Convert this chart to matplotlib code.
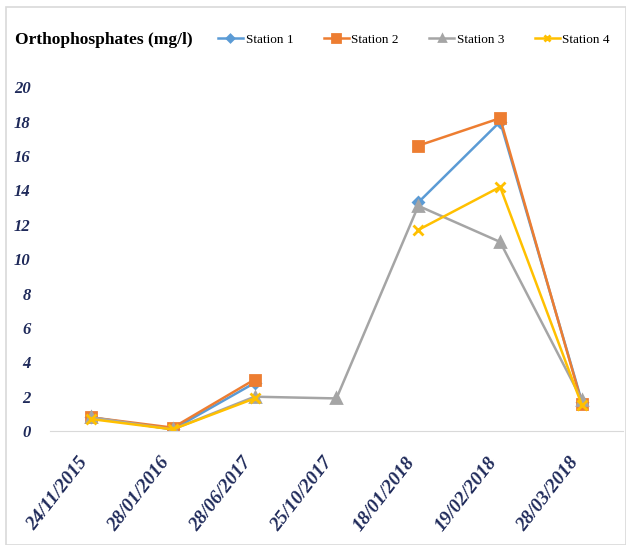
import matplotlib.pyplot as plt
import numpy as np
from matplotlib.patches import Rectangle

dates = ["24/11/2015", "28/01/2016", "28/06/2017", "25/10/2017",
         "18/01/2018", "19/02/2018", "28/03/2018"]
station1 = [0.8, 0.1, 2.8, np.nan, 13.3, 18.0, 1.7]
station2 = [0.8, 0.2, 3.0, np.nan, 16.6, 18.2, 1.6]
station3 = [0.8, 0.1, 2.0, 1.9, 13.1, 11.0, 1.8]
station4 = [0.7, 0.1, 1.9, np.nan, 11.7, 14.2, 1.5]

names = ["Station 1", "Station 2", "Station 3", "Station 4"]
colors = ["#5B9BD5", "#ED7D31", "#A5A5A5", "#FFC000"]
markers = ["D", "s", "^", "x"]
msizes = [5, 7.5, 6.5, 6.5]

plt.rcParams['font.family'] = ['Liberation Serif', 'DejaVu Serif']
navy = "#1F2A5A"

fig = plt.figure(figsize=(6.26, 5.45), dpi=100)
fig.patches.append(Rectangle((0.010, 0.0), 0.99, 0.987, transform=fig.transFigure,
                             fill=False, edgecolor="#D9D9D9", lw=1.2))
ax = fig.add_axes([0.08, 0.209, 0.915, 0.631])

x = np.arange(len(dates))
for vals, name, c, m, ms in zip([station1, station2, station3, station4],
                                names, colors, markers, msizes):
    ax.plot(x, vals, color=c, marker=m, ms=ms, lw=1.8, mew=2, label=name)

ax.set_xlim(-0.5, len(dates) - 0.5)
ax.set_ylim(0, 20)
ax.set_yticks(range(0, 21, 2))
ax.set_xticks(x)
ax.set_xticklabels(dates, rotation=52, ha='right', va='bottom',
                   rotation_mode='anchor')
for lab in ax.get_xticklabels() + ax.get_yticklabels():
    lab.set_fontweight('bold')
    lab.set_fontstyle('italic')
    lab.set_color(navy)
for lab in ax.get_xticklabels():
    lab.set_fontsize(14)
for lab in ax.get_yticklabels():
    lab.set_fontsize(12)
ax.tick_params(axis='both', length=0)
ax.tick_params(axis='y', pad=14)
ax.tick_params(axis='x', pad=24)
for s in ["top", "right", "left"]:
    ax.spines[s].set_visible(False)
ax.spines["bottom"].set_color("#D9D9D9")

fig.text(15 / 626, 1 - 40 / 545, "Orthophosphates (mg/l)", fontsize=12.5,
         fontweight='bold', va='center', ha='left')
fig.legend(loc='center left', bbox_to_anchor=(206 / 626, 1 - 40 / 545), ncol=4,
           frameon=False, fontsize=9.5, handlelength=1.9, columnspacing=2.3,
           handletextpad=0.2, markerscale=0.7)

fig.savefig("out.png", dpi=100)
